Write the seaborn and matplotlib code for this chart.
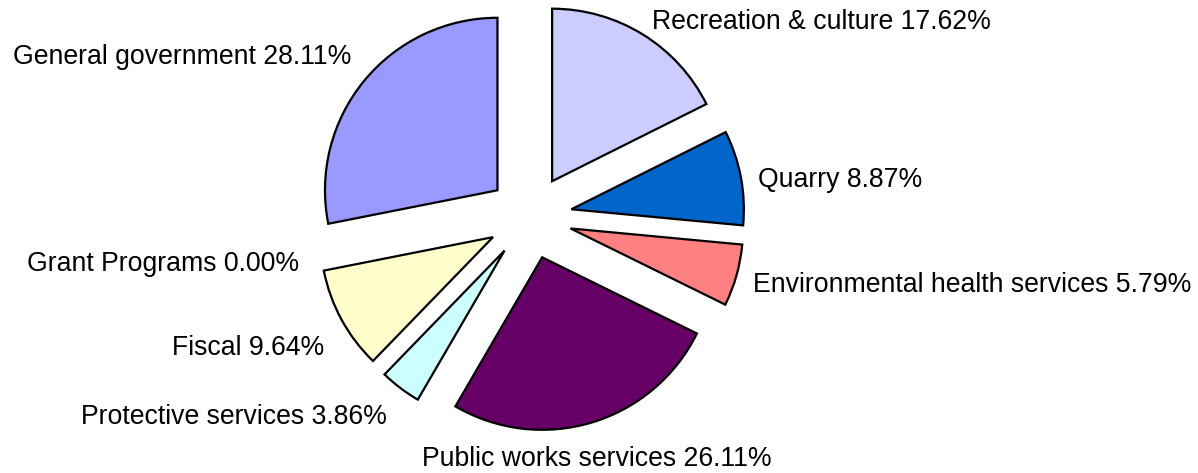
import matplotlib
matplotlib.use("Agg")
import matplotlib.pyplot as plt
import seaborn as sns

sns.set_theme(style="white")
plt.rcParams['font.family'] = ['Liberation Sans', 'DejaVu Sans']

# Data (clockwise from 12 o'clock)
categories = ['Recreation & culture', 'Quarry', 'Environmental health services',
              'Public works services', 'Protective services', 'Fiscal',
              'Grant Programs', 'General government']
shares = [17.62, 8.87, 5.79, 26.11, 3.86, 9.64, 0.00, 28.11]
colors = ['#CCCCFF', '#0066CC', '#FF8080', '#660066', '#CCFFFF', '#FFFFCC',
          '#FFFFFF', '#9999FF']

# label placement (layout only)
label_xy = [(0.71, 1.13), (1.32, 0.215), (1.29, -0.395), (0.39, -1.405),
            (-0.83, -1.16), (-1.19, -0.76), (-1.34, -0.275), (-1.035, 0.93)]
label_ha = ['left', 'left', 'left', 'center', 'right', 'right', 'right', 'right']

fig = plt.figure(figsize=(11.98, 4.73), dpi=100)
ax = fig.add_axes([0, 0, 1, 1])

wedges, _ = ax.pie(shares, colors=colors, startangle=90, counterclock=False,
                   explode=[0.244] * len(shares), radius=1,
                   wedgeprops=dict(edgecolor='black', linewidth=1.6))

# zero-width slice: nothing to draw
for w, v in zip(wedges, shares):
    if v == 0:
        w.set_visible(False)

for name, v, (x, y), ha in zip(categories, shares, label_xy, label_ha):
    ax.text(x, y, f"{name} {v:.2f}%", ha=ha, va='center', fontsize=19.2, color='black')

scale = 172.5
cx, cy = 530, 217
ax.set_xlim(-cx / scale, (1198 - cx) / scale)
ax.set_ylim(-(473 - cy) / scale, cy / scale)
ax.set_aspect('auto')
ax.axis('off')

fig.savefig('out.png', dpi=100, facecolor='white')
